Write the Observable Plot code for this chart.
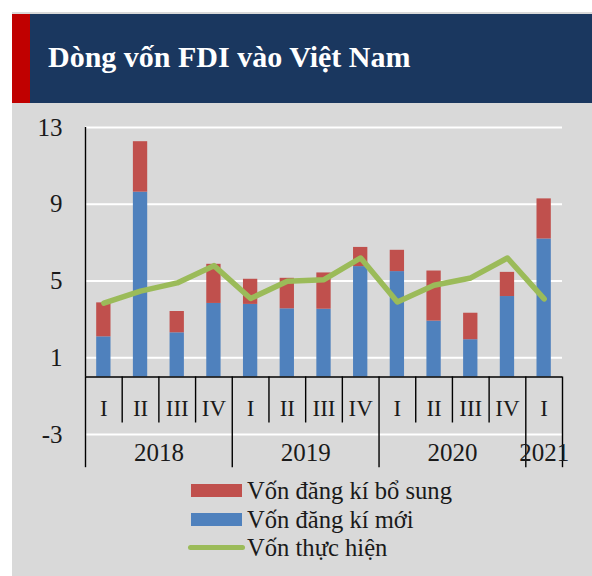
<!DOCTYPE html>
<html><head><meta charset="utf-8">
<script src="https://cdn.jsdelivr.net/npm/d3@7"></script>
<script src="https://cdn.jsdelivr.net/npm/@observablehq/plot@0.6"></script>
<style>
body{margin:0;background:#fff;}
#wrap{position:relative;width:592px;height:576px;overflow:hidden;font-family:"Liberation Serif",serif;}
#panel{position:absolute;left:12px;top:12px;width:580px;height:564px;background:#d9d9d9;}
#header{position:absolute;left:12px;top:14px;width:580px;height:89px;background:#1a375f;}
#stripe{position:absolute;left:0;top:0;width:18px;height:89px;background:#c00000;}
#title{position:absolute;left:36px;top:28px;color:#fff;font-weight:bold;font-size:30px;line-height:30px;white-space:nowrap;}
#chart{position:absolute;left:12px;top:103px;}
#legend{position:absolute;left:188px;top:477px;color:#1a1a1a;font-size:24.6px;}
.row{display:flex;align-items:center;height:28.5px;}
.sw{width:57px;height:28px;position:relative;flex:none;}
.sw div{position:absolute;}
.lt{margin-left:2px;white-space:nowrap;}
</style></head>
<body>
<div id="wrap">
  <div id="panel"></div>
  <div id="header"><div id="stripe"></div><div id="title">Dòng vốn FDI vào Việt Nam</div></div>
  <div id="chart"></div>
  <div id="legend"></div>
</div>
<script>
const quarters = ["I","II","III","IV","I","II","III","IV","I","II","III","IV","I"];
const years = ["2018","2019","2020","2021"];
const quartersPerYear = [4,4,4,1];
const newCapital = [2.09, 9.63, 2.30, 3.83, 3.78, 3.55, 3.53, 5.75, 5.49, 2.91, 1.94, 4.19, 7.19];
const addCapital = [1.77, 2.63, 1.11, 2.04, 1.31, 1.59, 1.89, 1.00, 1.11, 2.61, 1.38, 1.26, 2.09];
const disbursed  = [3.85, 4.47, 4.90, 5.80, 4.09, 4.99, 5.07, 6.20, 3.91, 4.78, 5.16, 6.20, 4.07];
const yTicks = [-3, 1, 5, 9, 13];
const seriesNames = ["Vốn đăng kí bổ sung", "Vốn đăng kí mới", "Vốn thực hiện"];
const colors = {add:"#c0504d", nw:"#4f81bd", line:"#9bbb59"};

const rows = quarters.map((q,i)=>({i, q, n:newCapital[i], a:addCapital[i], d:disbursed[i]}));
let start = 0;
const yearSpans = years.map((y,k)=>{const s=start; start+=quartersPerYear[k]; return {y, s, e:start};});
const yearBounds = new Set(yearSpans.flatMap(d=>[d.s,d.e]));
const n = quarters.length;
const bounds = d3.range(n+1);
const textColor = "#1a1a1a";

const chart = Plot.plot({
  width: 580, height: 368,
  marginLeft: 73, marginRight: 30, marginTop: 24, marginBottom: 37,
  style: {background:"transparent", fontFamily:"Liberation Serif, serif", color:textColor},
  x: {domain:[0,n], axis:null},
  y: {domain:[-3,13], axis:null},
  marks: [
    Plot.ruleY(yTicks, {x1:0, x2:n, stroke:"#fff", strokeWidth:2}),
    Plot.rect(rows, {x1:d=>d.i+0.305, x2:d=>d.i+0.695, y1:0, y2:"n", fill:colors.nw}),
    Plot.rect(rows, {x1:d=>d.i+0.305, x2:d=>d.i+0.695, y1:"n", y2:d=>d.n+d.a, fill:colors.add}),
    Plot.line(rows, {x:d=>d.i+0.5, y:"d", stroke:colors.line, strokeWidth:5.5, strokeLinejoin:"round", strokeLinecap:"round"}),
    Plot.ruleY([0], {x1:0, x2:n, stroke:"#000", strokeWidth:1.4}),
    Plot.ruleX([0], {y1:0, y2:13, stroke:"#000", strokeWidth:1.4}),
    Plot.ruleX(bounds, {x:d=>d, y1:0, y2:d=>yearBounds.has(d)?-4.73:-2.4, stroke:"#000", strokeWidth:1.4}),
    Plot.text(rows, {x:d=>d.i+0.5, y:-1.67, text:"q", fontSize:23, fill:textColor}),
    Plot.text(yearSpans, {x:d=>(d.s+d.e)/2, y:-3.96, text:"y", fontSize:25, fill:textColor}),
    Plot.axisY(yTicks, {tickSize:0, tickPadding:23, fontSize:25, label:null, fill:textColor, tickFormat:d=>String(d)})
  ]
});
document.getElementById("chart").appendChild(chart);

const legend = document.getElementById("legend");
const swatches = [
  `<div style="left:3px;top:7px;width:51px;height:13px;background:${colors.add}"></div>`,
  `<div style="left:3px;top:7px;width:51px;height:13px;background:${colors.nw}"></div>`,
  `<div style="left:0;top:11px;width:57px;height:5px;border-radius:3px;background:${colors.line}"></div>`
];
seriesNames.forEach((s,k)=>{
  const r = document.createElement("div");
  r.className="row";
  r.innerHTML = `<div class="sw">${swatches[k]}</div><div class="lt">${s}</div>`;
  legend.appendChild(r);
});
</script>
</body></html>
